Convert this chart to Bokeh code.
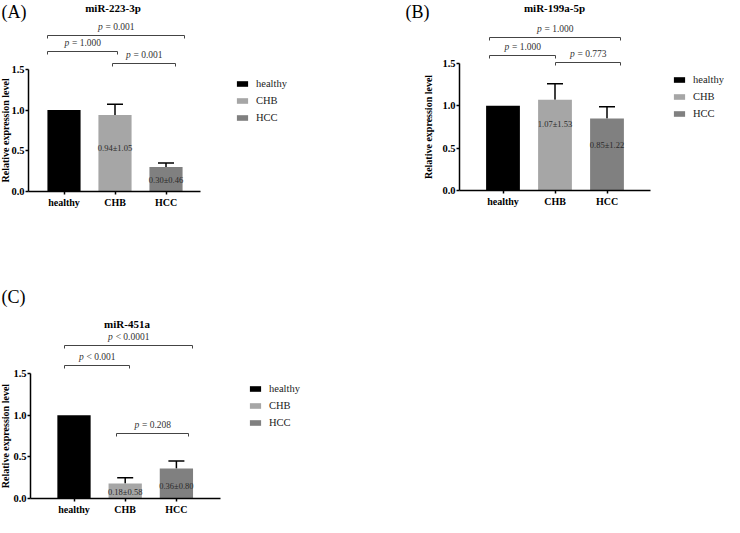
import math
from bokeh.plotting import figure
from bokeh.models import (Range1d, FixedTicker, Label, Legend, LegendItem,
                          ColumnDataSource, Whisker, TeeHead, NumeralTickFormatter)
from bokeh.layouts import row, column
from bokeh.embed import file_html
from bokeh.resources import INLINE
from bokeh.core.properties import value

# ---------------- data ----------------
categories = ["healthy", "CHB", "HCC"]
bar_colors = ["#000000", "#a6a6a6", "#808080"]

title_a = "miR-223-3p"
means_a = [1.00, 0.94, 0.30]
errs_a = [0.00, 0.13, 0.05]
inner_a = ["", "0.94±1.05", "0.30±0.46"]
pairs_a = [(0, 2), (0, 1), (1, 2)]
ptext_a = ["= 0.001", "= 1.000", "= 0.001"]

title_b = "miR-199a-5p"
means_b = [1.00, 1.07, 0.85]
errs_b = [0.00, 0.19, 0.14]
inner_b = ["", "1.07±1.53", "0.85±1.22"]
pairs_b = [(0, 2), (0, 1), (1, 2)]
ptext_b = ["= 1.000", "= 1.000", "= 0.773"]

title_c = "miR-451a"
means_c = [1.00, 0.18, 0.36]
errs_c = [0.00, 0.07, 0.09]
inner_c = ["", "0.18±0.58", "0.36±0.80"]
pairs_c = [(0, 2), (0, 1), (1, 2)]
ptext_c = ["< 0.0001", "< 0.001", "= 0.208"]

y_ticks = [0.0, 0.5, 1.0, 1.5]
y_label = "Relative expression level"

# ---------------- layout (pixel geometry, reference page coords) ----------------
SERIF = "Liberation Serif"

spec_a = dict(tag="(A)", origin=(8, 8), W=392, H=250, axis_x=36, ylab_x=12.5,
              x0=71.5, sx=51.0, y0=199, sy=81.5, shift=0, axis_end=208,
              tag_pos=(9, 9), title_pos=(120.5, 9),
              brackets=[(55, 192, 43), (55, 125, 59), (120, 183, 71)],
              inner_y=[None, 155.7, 187.0], legend=(243, 83))
spec_b = dict(tag="(B)", origin=(400, 8), W=332, H=250, axis_x=467, ylab_x=436,
              x0=510.5, sx=52.0, y0=198, sy=84.7, shift=0, axis_end=658,
              tag_pos=(413, 9), title_pos=(562, 9),
              brackets=[(497, 628, 45), (497, 563, 63), (563, 628, 70)],
              inner_y=[None, 131.7, 152.7], legend=(680, 79))
spec_c = dict(tag="(C)", origin=(8, 258), W=392, H=267, axis_x=38, ylab_x=12.5,
              x0=81.5, sx=51.2, y0=517, sy=83.3, shift=-11, axis_end=228,
              tag_pos=(9, 305), title_pos=(134.5, 336),
              brackets=[(72, 200, 364), (72, 137, 384), (124, 196, 452)],
              inner_y=[None, 510.0, 504.3], legend=(256, 399))

EM = {" ": 0.25, "=": 0.564, "<": 0.564, ".": 0.25}


def text_w(s, size):
    return sum(EM.get(ch, 0.5) for ch in s) * size


def make_panel(title, means, errs, inner, pairs, ptexts, spec):
    ox, oy = spec["origin"]
    W, H = spec["W"], spec["H"]
    x0, sx, y0, sy, sh = spec["x0"], spec["sx"], spec["y0"], spec["sy"], spec["shift"]

    def dx(px):
        return (px - x0) / sx

    def dy(py):  # py in reference coordinates
        return (y0 - py) / sy

    zero_page = y0 + sh            # page y of the value 0
    y_end = (zero_page - oy) / sy
    y_start = -(oy + H - zero_page) / sy

    p = figure(width=W, height=H,
               x_range=Range1d(dx(ox), dx(ox + W)), y_range=Range1d(y_start, y_end),
               min_border_left=0, min_border_right=0, min_border_top=0, min_border_bottom=0,
               toolbar_location=None, output_backend="svg",
               outline_line_color=None, background_fill_color="white",
               border_fill_color="white")
    p.xgrid.visible = False
    p.ygrid.visible = False

    idx = list(range(len(categories)))
    src = ColumnDataSource(dict(x=idx, top=means, color=bar_colors, cat=categories))
    bars = p.vbar(x="x", top="top", bottom=0, width=0.65, fill_color="color",
                  line_color=None, source=src)

    # error bars (upper only)
    ex = [i for i in idx if errs[i] > 0]
    esrc = ColumnDataSource(dict(x=ex, lower=[means[i] for i in ex],
                                 upper=[means[i] + errs[i] for i in ex]))
    p.add_layout(Whisker(source=esrc, base="x", lower="lower", upper="upper",
                         dimension="height", line_color="black", line_width=1.5,
                         upper_head=TeeHead(size=16, line_color="black", line_width=1.5),
                         lower_head=None))

    # values inside bars
    tx = [i for i in idx if inner[i]]
    p.text(x=tx, y=[dy(spec["inner_y"][i]) for i in tx], text=[inner[i] for i in tx],
           text_font=value(SERIF), text_font_size="8.5px", text_color="#2a2a2a",
           text_align="center", text_baseline="middle")

    # significance brackets
    tick = 3.0 / sy
    fs = 9.5
    for (i, j), pt, (bx1, bx2, by) in zip(pairs, ptexts, spec["brackets"]):
        yb = dy(by)
        p.line(x=[dx(bx1), dx(bx1), dx(bx2), dx(bx2)], y=[yb - tick, yb, yb, yb - tick],
               line_color="#444444", line_width=1)
        xm = (dx(bx1) + dx(bx2)) / 2
        total = 0.5 * fs + text_w(" " + pt, fs)
        off = -total / 2 + 0.5 * fs
        ty = dy(by - 9)
        p.text(x=[xm], y=[ty], text=["p"], x_offset=off, text_font=value(SERIF),
               text_font_style="italic", text_font_size=f"{fs}px", text_color="#333333",
               text_align="right", text_baseline="middle")
        p.text(x=[xm], y=[ty], text=[pt], x_offset=off + 0.25 * fs + 0.5,
               text_font=value(SERIF), text_font_size=f"{fs}px", text_color="#333333",
               text_align="left", text_baseline="middle")

    # axes (drawn at fixed data locations inside the frame)
    p.xaxis.ticker = FixedTicker(ticks=idx)
    p.xaxis.major_label_overrides = {i: c for i, c in enumerate(categories)}
    p.xaxis.bounds = (dx(spec["axis_x"]), dx(spec["axis_end"]))
    p.xaxis.fixed_location = 0
    p.yaxis.ticker = FixedTicker(ticks=y_ticks)
    p.yaxis.formatter = NumeralTickFormatter(format="0.0")
    p.yaxis.bounds = (0, 1.5)
    p.yaxis.fixed_location = dx(spec["axis_x"])
    for ax in (p.xaxis[0], p.yaxis[0]):
        ax.axis_line_width = 1.5
        ax.axis_line_color = "black"
        ax.major_tick_line_width = 1.5
        ax.major_tick_line_color = "black"
        ax.major_tick_in = 0
        ax.minor_tick_line_color = None
        ax.major_label_text_font = SERIF
        ax.major_label_text_font_style = "bold"
        ax.major_label_text_color = "black"
        ax.major_label_standoff = 1
    p.xaxis.major_tick_out = 3
    p.yaxis.major_tick_out = 3
    p.xaxis.major_label_standoff = 2
    p.xaxis.major_label_text_font_size = "10px"
    p.yaxis.major_label_text_font_size = "10.5px"

    # y-axis title, centred on the 0..1.5 span
    p.add_layout(Label(x=dx(spec["ylab_x"]), y=0.75, text=y_label, angle=math.pi / 2,
                       text_font=SERIF, text_font_style="bold", text_font_size="10px",
                       text_color="black", text_align="center", text_baseline="middle"))

    # panel tag and title
    tx0, ty0 = spec["tag_pos"]
    p.add_layout(Label(x=dx(tx0), y=dy(ty0), text=spec["tag"], text_font=SERIF,
                       text_font_size="18px", text_color="black",
                       text_align="left", text_baseline="top"))
    ttx, tty = spec["title_pos"]
    p.add_layout(Label(x=dx(ttx), y=dy(tty), text=title, text_font=SERIF,
                       text_font_style="bold", text_font_size="11px", text_color="black",
                       text_align="center", text_baseline="top"))

    # legend (location measured from the frame's bottom-left corner)
    lgx, lgy = spec["legend"]
    item_h, gap = 14, 3
    leg_h = 3 * item_h + 2 * gap
    top_ref = lgy - item_h / 2
    frame_bottom_ref = oy + H - sh
    vy = frame_bottom_ref - (top_ref + leg_h) - 8
    vx = lgx - ox
    items = [LegendItem(label=c, renderers=[bars], index=i) for i, c in enumerate(categories)]
    legend = Legend(items=items, location=(vx, vy), orientation="vertical",
                    border_line_color=None, background_fill_alpha=0,
                    padding=0, margin=0, spacing=gap, glyph_width=14, glyph_height=7,
                    label_height=item_h, label_standoff=7,
                    label_text_font=SERIF, label_text_font_size="10.5px",
                    label_text_color="#222222")
    p.add_layout(legend)
    return p


pa = make_panel(title_a, means_a, errs_a, inner_a, pairs_a, ptext_a, spec_a)
pb = make_panel(title_b, means_b, errs_b, inner_b, pairs_b, ptext_b, spec_b)
pc = make_panel(title_c, means_c, errs_c, inner_c, pairs_c, ptext_c, spec_c)

layout = row(column(pa, pc), pb)
open("out.html", "w").write(file_html(layout, INLINE))
